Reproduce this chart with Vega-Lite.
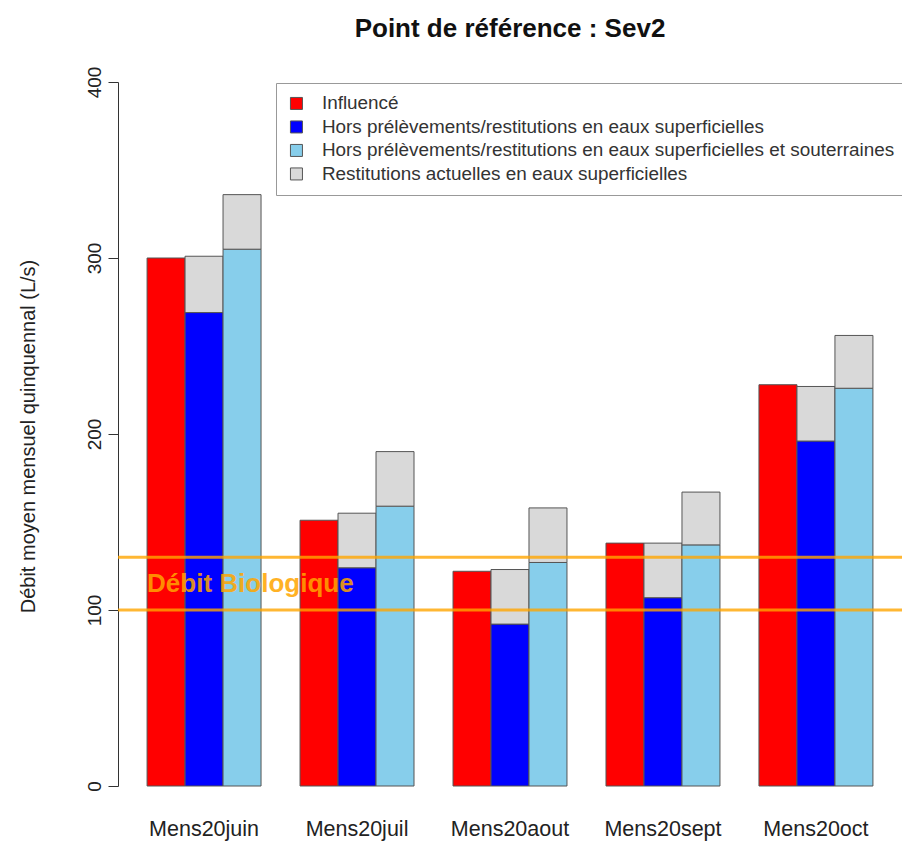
{
  "$schema": "https://vega.github.io/schema/vega-lite/v6.json",
  "width": 784,
  "height": 704,
  "autosize": {"type": "none"},
  "padding": {"left": 118, "top": 82, "right": 0, "bottom": 55},
  "background": "white",
  "config": {"font": "Liberation Sans", "view": {"stroke": null}},
  "title": {
    "text": "Point de référence : Sev2",
    "fontSize": 26,
    "fontWeight": "bold",
    "color": "#111111",
    "anchor": "middle",
    "offset": 24
  },
  "datasets": {
    "debits": [
      {"mois": "Mens20juin", "barre": "influence", "serie": "Influencé", "ordre": 1, "valeur": 300},
      {"mois": "Mens20juin", "barre": "surf", "serie": "Hors prélèvements/restitutions en eaux superficielles", "ordre": 1, "valeur": 269},
      {"mois": "Mens20juin", "barre": "surf", "serie": "Restitutions actuelles en eaux superficielles", "ordre": 2, "valeur": 32},
      {"mois": "Mens20juin", "barre": "surf_sout", "serie": "Hors prélèvements/restitutions en eaux superficielles et souterraines", "ordre": 1, "valeur": 305},
      {"mois": "Mens20juin", "barre": "surf_sout", "serie": "Restitutions actuelles en eaux superficielles", "ordre": 2, "valeur": 31},

      {"mois": "Mens20juil", "barre": "influence", "serie": "Influencé", "ordre": 1, "valeur": 151},
      {"mois": "Mens20juil", "barre": "surf", "serie": "Hors prélèvements/restitutions en eaux superficielles", "ordre": 1, "valeur": 124},
      {"mois": "Mens20juil", "barre": "surf", "serie": "Restitutions actuelles en eaux superficielles", "ordre": 2, "valeur": 31},
      {"mois": "Mens20juil", "barre": "surf_sout", "serie": "Hors prélèvements/restitutions en eaux superficielles et souterraines", "ordre": 1, "valeur": 159},
      {"mois": "Mens20juil", "barre": "surf_sout", "serie": "Restitutions actuelles en eaux superficielles", "ordre": 2, "valeur": 31},

      {"mois": "Mens20aout", "barre": "influence", "serie": "Influencé", "ordre": 1, "valeur": 122},
      {"mois": "Mens20aout", "barre": "surf", "serie": "Hors prélèvements/restitutions en eaux superficielles", "ordre": 1, "valeur": 92},
      {"mois": "Mens20aout", "barre": "surf", "serie": "Restitutions actuelles en eaux superficielles", "ordre": 2, "valeur": 31},
      {"mois": "Mens20aout", "barre": "surf_sout", "serie": "Hors prélèvements/restitutions en eaux superficielles et souterraines", "ordre": 1, "valeur": 127},
      {"mois": "Mens20aout", "barre": "surf_sout", "serie": "Restitutions actuelles en eaux superficielles", "ordre": 2, "valeur": 31},

      {"mois": "Mens20sept", "barre": "influence", "serie": "Influencé", "ordre": 1, "valeur": 138},
      {"mois": "Mens20sept", "barre": "surf", "serie": "Hors prélèvements/restitutions en eaux superficielles", "ordre": 1, "valeur": 107},
      {"mois": "Mens20sept", "barre": "surf", "serie": "Restitutions actuelles en eaux superficielles", "ordre": 2, "valeur": 31},
      {"mois": "Mens20sept", "barre": "surf_sout", "serie": "Hors prélèvements/restitutions en eaux superficielles et souterraines", "ordre": 1, "valeur": 137},
      {"mois": "Mens20sept", "barre": "surf_sout", "serie": "Restitutions actuelles en eaux superficielles", "ordre": 2, "valeur": 30},

      {"mois": "Mens20oct", "barre": "influence", "serie": "Influencé", "ordre": 1, "valeur": 228},
      {"mois": "Mens20oct", "barre": "surf", "serie": "Hors prélèvements/restitutions en eaux superficielles", "ordre": 1, "valeur": 196},
      {"mois": "Mens20oct", "barre": "surf", "serie": "Restitutions actuelles en eaux superficielles", "ordre": 2, "valeur": 31},
      {"mois": "Mens20oct", "barre": "surf_sout", "serie": "Hors prélèvements/restitutions en eaux superficielles et souterraines", "ordre": 1, "valeur": 226},
      {"mois": "Mens20oct", "barre": "surf_sout", "serie": "Restitutions actuelles en eaux superficielles", "ordre": 2, "valeur": 30}
    ],
    "seuils": [{"seuil": 100}, {"seuil": 130}],
    "annotation": [{"mois": "Mens20juin", "niveau": 115, "libelle": "Débit Biologique"}]
  },
  "layer": [
    {
      "data": {"name": "debits"},
      "mark": {"type": "bar", "stroke": "#555555", "strokeWidth": 1},
      "encoding": {
        "x": {
          "field": "mois",
          "type": "nominal",
          "sort": ["Mens20juin", "Mens20juil", "Mens20aout", "Mens20sept", "Mens20oct"],
          "scale": {"paddingInner": 0.255, "paddingOuter": 0.19},
          "axis": {
            "title": null,
            "domain": false,
            "ticks": false,
            "labelAngle": 0,
            "labelFontSize": 21.5,
            "labelColor": "#222222",
            "labelPadding": 32
          }
        },
        "xOffset": {
          "field": "barre",
          "type": "nominal",
          "sort": ["influence", "surf", "surf_sout"],
          "scale": {"paddingInner": 0, "paddingOuter": 0}
        },
        "y": {
          "field": "valeur",
          "type": "quantitative",
          "stack": "zero",
          "scale": {"domain": [0, 400], "nice": false},
          "axis": {
            "title": "Débit moyen mensuel quinquennal (L/s)",
            "values": [0, 100, 200, 300, 400],
            "grid": false,
            "domainColor": "#333333",
            "tickColor": "#333333",
            "tickSize": 10,
            "labelAngle": 270,
            "labelAlign": "center",
            "labelBaseline": "bottom",
            "labelFontSize": 19,
            "labelPadding": 4,
            "labelColor": "#222222",
            "labelFlush": false,
            "labelOverlap": false,
            "titleFontSize": 20,
            "titleFontWeight": "normal",
            "titleColor": "#222222",
            "titleAngle": 270,
            "titleAlign": "center",
            "titleBaseline": "bottom",
            "titleX": -80,
            "titleY": 354
          }
        },
        "color": {
          "field": "serie",
          "type": "nominal",
          "scale": {
            "domain": [
              "Influencé",
              "Hors prélèvements/restitutions en eaux superficielles",
              "Hors prélèvements/restitutions en eaux superficielles et souterraines",
              "Restitutions actuelles en eaux superficielles"
            ],
            "range": ["#FF0000", "#0000FF", "#87CEEB", "#D9D9D9"]
          },
          "legend": {
            "title": null,
            "orient": "none",
            "legendX": 158,
            "legendY": 1,
            "direction": "vertical",
            "symbolType": "square",
            "symbolSize": 144,
            "symbolStrokeColor": "#555555",
            "symbolStrokeWidth": 1,
            "symbolOpacity": 1,
            "labelFontSize": 18.9,
            "labelColor": "#333333",
            "labelLimit": 700,
            "labelOffset": 16,
            "rowPadding": 3.5,
            "padding": 11,
            "strokeColor": "#999999",
            "fillColor": "white"
          }
        },
        "order": {"field": "ordre", "type": "quantitative"}
      }
    },
    {
      "data": {"name": "seuils"},
      "mark": {"type": "rule", "color": "#FFA500", "strokeWidth": 3, "opacity": 0.8},
      "encoding": {
        "y": {"field": "seuil", "type": "quantitative"}
      }
    },
    {
      "data": {"name": "annotation"},
      "mark": {
        "type": "text",
        "align": "left",
        "baseline": "middle",
        "fontSize": 26,
        "fontWeight": "bold",
        "color": "#FFA500",
        "opacity": 0.85
      },
      "encoding": {
        "x": {
          "field": "mois",
          "type": "nominal",
          "sort": ["Mens20juin", "Mens20juil", "Mens20aout", "Mens20sept", "Mens20oct"],
          "bandPosition": 0
        },
        "y": {"field": "niveau", "type": "quantitative"},
        "text": {"field": "libelle"}
      }
    }
  ]
}
